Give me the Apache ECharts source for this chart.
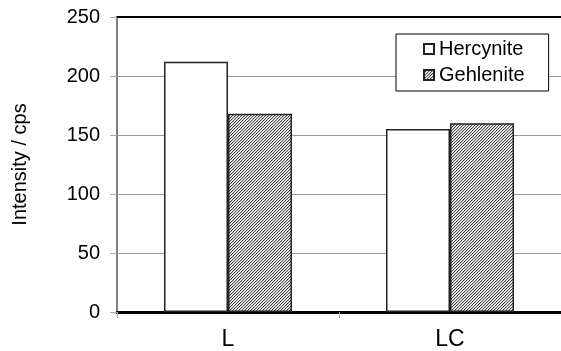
<!DOCTYPE html>
<html>
<head>
<meta charset="utf-8">
<script src="https://cdn.jsdelivr.net/npm/echarts@6/dist/echarts.min.js"></script>
<style>
html,body{margin:0;padding:0;background:#fff;}
#main{width:561px;height:351px;}
</style>
</head>
<body>
<div id="main"></div>
<script>
var categories = ['L', 'LC'];
var hercynite = [212, 155];
var gehlenite = [168, 160];
var yTicks = [0, 50, 100, 150, 200, 250];

function hatch() {
  var c = document.createElement('canvas');
  c.width = 3; c.height = 3;
  var g = c.getContext('2d');
  g.fillStyle = '#ffffff';
  g.fillRect(0, 0, 3, 3);
  for (var i = 0; i < 3; i++) {
    g.fillStyle = '#4a4a4a';
    g.fillRect(i, 2 - i, 1, 1);
    g.fillStyle = '#c4c4c4';
    g.fillRect((i + 1) % 3, 2 - i, 1, 1);
  }
  return c;
}

var font = 'Liberation Sans, Arial, sans-serif';
var chart = echarts.init(document.getElementById('main'), null, {renderer: 'canvas'});
chart.setOption({
  animation: false,
  backgroundColor: '#ffffff',
  grid: {left: 117, top: 17, right: -3, bottom: 39, containLabel: false},
  legend: {
    left: 396, top: 34, orient: 'vertical',
    padding: [5, 24, 6, 27],
    itemWidth: 10, itemHeight: 10, itemGap: 6,
    borderColor: '#000', borderWidth: 1, backgroundColor: '#fff',
    textStyle: {fontFamily: font, fontSize: 20, color: '#000'},
    icon: 'rect',
    data: ['Hercynite', 'Gehlenite']
  },
  xAxis: [{
    type: 'category', data: categories,
    axisLine: {lineStyle: {color: '#000', width: 3}},
    axisTick: {show: true, length: 6, lineStyle: {color: '#aaa'}},
    axisLabel: {fontFamily: font, fontSize: 23, color: '#000', margin: 16}
  }, {
    type: 'category', data: categories, position: 'top',
    axisLine: {show: true, lineStyle: {color: '#000', width: 2}},
    axisTick: {show: false}, axisLabel: {show: false}
  }],
  yAxis: {
    type: 'value', min: 0, max: 250, interval: 50,
    name: 'Intensity / cps', nameLocation: 'middle', nameGap: 87,
    nameTextStyle: {fontFamily: font, fontSize: 20, color: '#000'},
    axisLine: {show: true, lineStyle: {color: '#808080', width: 2}},
    axisTick: {show: true, length: 7, lineStyle: {color: '#aaa'}},
    axisLabel: {fontFamily: font, fontSize: 20, color: '#000', margin: 17,
      formatter: function (v) { return yTicks.indexOf(v) >= 0 ? String(v) : ''; }},
    splitLine: {lineStyle: {color: '#999', width: 1}}
  },
  series: [{
    name: 'Hercynite', type: 'bar', data: hercynite, barWidth: 64, barGap: '0%',
    itemStyle: {color: '#ffffff', borderColor: '#222', borderWidth: 1.5}
  }, {
    name: 'Gehlenite', type: 'bar', data: gehlenite, barWidth: 64, barGap: '0%',
    itemStyle: {color: {image: hatch(), repeat: 'repeat'}, borderColor: '#222', borderWidth: 1.5}
  }]
});
</script>
</body>
</html>
